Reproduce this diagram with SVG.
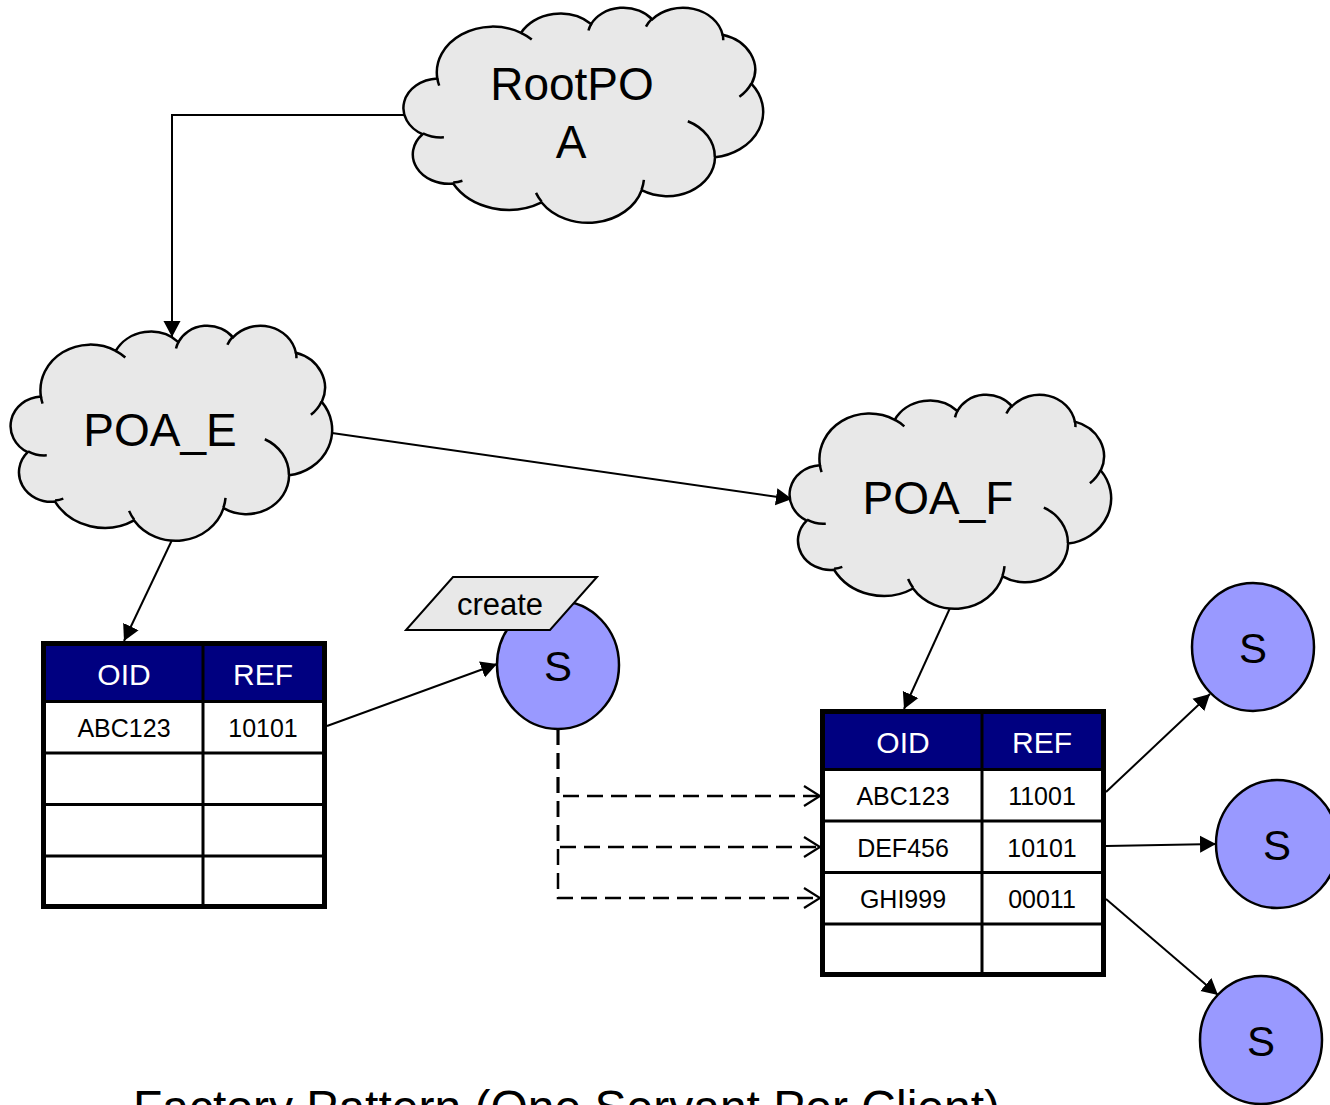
<svg xmlns="http://www.w3.org/2000/svg" xmlns:xlink="http://www.w3.org/1999/xlink" width="1330" height="1105" viewBox="0 0 1330 1105">
<style>
.cloud{fill:#E8E8E8;stroke:#000;stroke-width:2.5}
.stub{fill:none;stroke:#000;stroke-width:2.5}
.lbl{font-family:"Liberation Sans",Arial,sans-serif;fill:#000;text-anchor:middle}
.big{font-size:46px}
.hdr{fill:#000080}
.hdrtxt{font-family:"Liberation Sans",Arial,sans-serif;font-size:30px;fill:#fff;text-anchor:middle}
.cell{font-family:"Liberation Sans",Arial,sans-serif;font-size:25px;fill:#000;text-anchor:middle}
.outer{fill:#fff;stroke:#000;stroke-width:5}
.grid{stroke:#000;stroke-width:3;fill:none}
.serv{fill:#9999FF;stroke:#000;stroke-width:2.5}
.stxt{font-family:"Liberation Sans",Arial,sans-serif;font-size:42px;fill:#000;text-anchor:middle}
.conn{fill:none;stroke:#000;stroke-width:2}
.dash{fill:none;stroke:#000;stroke-width:2.5;stroke-dasharray:16 8}
</style>
<defs>
<path id="cloudShape" vector-effect="non-scaling-stroke" d="M3900 14370 A6753 9190 0 0 1 14006 5203 A5333 7267 0 0 1 22457 3430 A4365 5945 0 0 1 29835 2477 A4857 6595 0 0 1 38320 5573 A5333 7273 0 0 1 41820 15456 A6775 9220 0 0 1 37407 30201 A5785 7867 0 0 1 28558 36811 A6752 9215 0 0 1 16484 39265 A7720 10543 0 0 1 5809 35477 A4360 5918 0 0 1 2117 25556 A4345 5945 0 0 1 3900 14370 Z"/>
<path id="cloudStubs" vector-effect="non-scaling-stroke" d="M4693 26177 A4345 5945 0 0 1 2159 25380 M6928 34899 A4360 5918 0 0 1 5820 35280 M16478 39090 A6752 9215 0 0 1 15809 37348 M28827 34751 A6752 9215 0 0 1 28561 36659 M34129 22954 A5785 7867 0 0 1 37381 30090 M41798 15354 A5333 7273 0 0 1 40350 18030 M38324 5426 A4857 6595 0 0 1 38400 6689 M29078 3952 A4857 6595 0 0 1 29820 2340 M22141 4720 A4365 5945 0 0 1 22500 3331 M14000 5192 A6753 9190 0 0 1 15298 6539 M4127 15789 A6753 9190 0 0 1 3900 14371"/>
<marker id="arr" markerUnits="userSpaceOnUse" markerWidth="16" markerHeight="18" viewBox="0 0 15 16" refX="15" refY="8" orient="auto">
<path d="M0,0 L15,8 L0,16 Z" fill="#000"/>
</marker>
<marker id="open" markerUnits="userSpaceOnUse" markerWidth="20" markerHeight="24" viewBox="-2 -2 20 24" refX="16" refY="10" orient="auto">
<path d="M0,0 L16,10 L0,20" fill="none" stroke="#000" stroke-width="2.2"/>
</marker>
</defs>

<g id="connectors">
<path class="conn" d="M405,115 H172 V337" marker-end="url(#arr)"/>
<path class="conn" d="M332,433 L792,499" marker-end="url(#arr)"/>
<path class="conn" d="M172,540 L124,641" marker-end="url(#arr)"/>
<path class="conn" d="M327,726 L497,664" marker-end="url(#arr)"/>
<path class="conn" d="M950,608 L904,709" marker-end="url(#arr)"/>
<path class="conn" d="M1106,792 L1210,694" marker-end="url(#arr)"/>
<path class="conn" d="M1106,846 L1216,844" marker-end="url(#arr)"/>
<path class="conn" d="M1106,899 L1218,995" marker-end="url(#arr)"/>
<path class="dash" d="M558,729 V796 H820" marker-end="url(#open)"/>
<path class="dash" d="M558,729 V847 H820" marker-end="url(#open)"/>
<path class="dash" d="M558,729 V898 H820" marker-end="url(#open)"/>
</g>

<g id="rootPOA">
<g transform="translate(405,7) scale(0.0082870,0.0049769)">
<use xlink:href="#cloudShape" class="cloud"/>
<use xlink:href="#cloudStubs" class="stub"/>
</g>
<text class="lbl big" x="572" y="100">RootPO</text>
<text class="lbl big" x="571" y="158">A</text>
</g>

<g id="poaE">
<g transform="translate(12,325) scale(0.0074074,0.0049769)">
<use xlink:href="#cloudShape" class="cloud"/>
<use xlink:href="#cloudStubs" class="stub"/>
</g>
<text class="lbl big" x="160" y="446">POA_E</text>
</g>

<g id="poaF">
<g transform="translate(791,394) scale(0.0074074,0.0049537)">
<use xlink:href="#cloudShape" class="cloud"/>
<use xlink:href="#cloudStubs" class="stub"/>
</g>
<text class="lbl big" x="938" y="514">POA_F</text>
</g>

<g id="tableE">
<rect class="outer" x="43.5" y="643.5" width="281" height="263"/>
<rect class="hdr" x="46" y="646" width="276" height="55"/>
<path class="grid" d="M46,701.5 H322 M46,753 H322 M46,804.5 H322 M46,856 H322 M203,646 V904"/>
<text class="hdrtxt" x="124" y="685">OID</text>
<text class="hdrtxt" x="263" y="685">REF</text>
<text class="cell" x="124" y="737">ABC123</text>
<text class="cell" x="263" y="737">10101</text>
</g>

<g id="tableF" transform="translate(779,68)">
<rect class="outer" x="43.5" y="643.5" width="281" height="263"/>
<rect class="hdr" x="46" y="646" width="276" height="55"/>
<path class="grid" d="M46,701.5 H322 M46,753 H322 M46,804.5 H322 M46,856 H322 M203,646 V904"/>
<text class="hdrtxt" x="124" y="685">OID</text>
<text class="hdrtxt" x="263" y="685">REF</text>
<text class="cell" x="124" y="737">ABC123</text>
<text class="cell" x="263" y="737">11001</text>
<text class="cell" x="124" y="788.5">DEF456</text>
<text class="cell" x="263" y="788.5">10101</text>
<text class="cell" x="124" y="840">GHI999</text>
<text class="cell" x="263" y="840">00011</text>
</g>

<g id="servantNew">
<ellipse class="serv" cx="558" cy="665" rx="61" ry="64"/>
<text class="stxt" x="558" y="681">S</text>
</g>

<g id="createLabel">
<polygon points="453,577 597,577 550,630 406,630" fill="#E8E8E8" stroke="#000" stroke-width="2"/>
<text class="lbl" x="500" y="615" font-size="31">create</text>
</g>

<g id="servant1">
<ellipse class="serv" cx="1253" cy="647" rx="61" ry="64"/>
<text class="stxt" x="1253" y="663">S</text>
</g>
<g id="servant2">
<ellipse class="serv" cx="1277" cy="844" rx="61" ry="64"/>
<text class="stxt" x="1277" y="860">S</text>
</g>
<g id="servant3">
<ellipse class="serv" cx="1261" cy="1040" rx="61" ry="64"/>
<text class="stxt" x="1261" y="1056">S</text>
</g>

<g id="title">
<text x="133" y="1124" font-family="'Liberation Sans',Arial,sans-serif" font-size="48" fill="#000">Factory Pattern (One Servant Per Client)</text>
</g>
</svg>
